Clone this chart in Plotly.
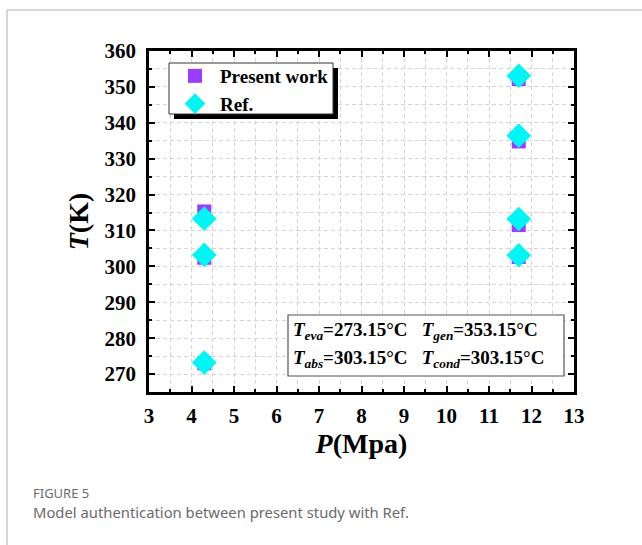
import plotly.graph_objects as go

# Data
pw_p = [4.3, 4.3, 4.3, 11.7, 11.7, 11.7, 11.7]
pw_t = [273.0, 302.4, 315.3, 302.6, 311.5, 334.8, 352.2]
ref_p = [4.3, 4.3, 4.3, 11.7, 11.7, 11.7, 11.7]
ref_t = [273.2, 303.2, 313.3, 303.1, 313.2, 336.4, 353.1]
x_ticks = list(range(3, 14))
y_ticks = list(range(270, 361, 10))

W, H = 642, 545
L, R, T, B = 149, 574, 51, 392

def px(x):
    return (x - L) / (R - L)

def py(y):
    return (B - y) / (B - T)

serif = "Liberation Serif"
fig = go.Figure()
fig.add_trace(go.Scatter(x=pw_p, y=pw_t, mode="markers", name="Present work",
                         marker=dict(symbol="square", size=14, color="#9b3cff")))
fig.add_trace(go.Scatter(x=ref_p, y=ref_t, mode="markers", name="Ref.",
                         marker=dict(symbol="diamond", size=19, color="#00f5f5")))

grid_c = "#d4d4d4"
axis_common = dict(
    showline=True, linecolor="black", linewidth=2.5, mirror="ticks",
    ticks="inside", ticklen=6, tickwidth=2, tickcolor="black",
    showgrid=True, gridcolor=grid_c, griddash="4px,3px", gridwidth=1,
    zeroline=False,
    tickfont=dict(family=serif, size=21, color="black", weight="bold"),
)

fig.update_xaxes(range=[3, 13], tickvals=x_ticks,
                 minor=dict(dtick=0.5, ticks="inside", ticklen=3, tickwidth=2, tickcolor="black",
                            showgrid=True, gridcolor=grid_c, griddash="4px,3px"),
                 title=dict(text="<i>P</i>(Mpa)", font=dict(family=serif, size=28, color="black", weight="bold"),
                            standoff=6),
                 ticklabelstandoff=3,
                 **axis_common)
fig.update_yaxes(range=[265, 360], tickvals=y_ticks,
                 minor=dict(dtick=5, ticks="inside", ticklen=3, tickwidth=2, tickcolor="black",
                            showgrid=True, gridcolor=grid_c, griddash="4px,3px"),
                 title=dict(text="<i>T</i>(K)", font=dict(family=serif, size=28, color="black", weight="bold"),
                            standoff=8),
                 ticklabelstandoff=6,
                 **axis_common)

shapes = []
# figure frame
shapes.append(dict(type="line", xref="paper", yref="paper", x0=px(7), x1=px(642), y0=py(10), y1=py(10),
                   line=dict(color="#c8c8c8", width=1.5)))
shapes.append(dict(type="line", xref="paper", yref="paper", x0=px(7), x1=px(7), y0=py(10), y1=py(545),
                   line=dict(color="#c8c8c8", width=1.5)))
# legend shadow and box
shapes.append(dict(type="rect", xref="paper", yref="paper", x0=px(174), x1=px(338), y0=py(68), y1=py(119),
                   fillcolor="black", line=dict(width=0), layer="above"))
shapes.append(dict(type="rect", xref="paper", yref="paper", x0=px(169), x1=px(333), y0=py(63), y1=py(114),
                   fillcolor="white", line=dict(color="#333333", width=1), layer="above"))
# annotation box
shapes.append(dict(type="rect", xref="paper", yref="paper", x0=px(288), x1=px(564), y0=py(315), y1=py(376),
                   fillcolor="white", line=dict(color="#555555", width=1.2), layer="above"))

anns = []
tf = dict(family=serif, size=19, color="black", weight="bold")
anns.append(dict(xref="paper", yref="paper", x=px(291), y=py(331), xanchor="left", yanchor="middle",
                 text="<i>T</i><sub><i>eva</i></sub>=273.15°C   <i>T</i><sub><i>gen</i></sub>=353.15°C",
                 showarrow=False, font=tf))
anns.append(dict(xref="paper", yref="paper", x=px(291), y=py(359), xanchor="left", yanchor="middle",
                 text="<i>T</i><sub><i>abs</i></sub>=303.15°C   <i>T</i><sub><i>cond</i></sub>=303.15°C",
                 showarrow=False, font=tf))
# caption
anns.append(dict(xref="paper", yref="paper", x=px(31), y=py(493), xanchor="left", yanchor="middle",
                 text="FIGURE 5", showarrow=False,
                 font=dict(family="Noto Sans", size=13, color="#6b6b6b")))
anns.append(dict(xref="paper", yref="paper", x=px(31), y=py(512), xanchor="left", yanchor="middle",
                 text="Model authentication between present study with Ref.", showarrow=False,
                 font=dict(family="Noto Sans", size=14.8, color="#6b6b6b")))

fig.update_layout(
    width=W, height=H,
    margin=dict(l=L, r=W - R, t=T, b=H - B),
    paper_bgcolor="white", plot_bgcolor="white",
    showlegend=True,
    legend=dict(x=px(170), y=py(57), xanchor="left", yanchor="top",
                bgcolor="rgba(0,0,0,0)", borderwidth=0,
                font=dict(family=serif, size=19, color="black", weight="bold"),
                itemwidth=40, tracegroupgap=0),
    shapes=shapes, annotations=anns,
)

fig.write_html("out.html")
